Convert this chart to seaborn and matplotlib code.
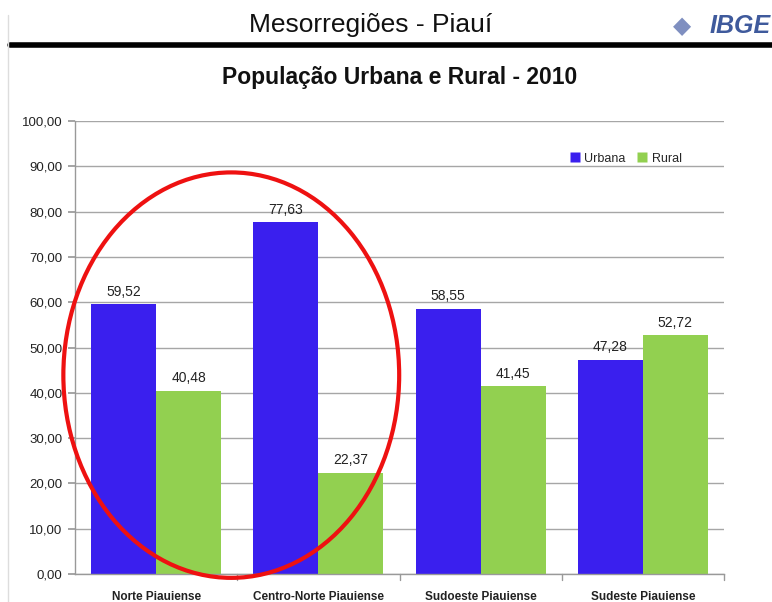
import matplotlib
matplotlib.use("Agg")
import matplotlib.pyplot as plt
import seaborn as sns
import pandas as pd
from matplotlib.patches import Ellipse
from matplotlib.lines import Line2D

categories = ["Norte Piauiense", "Centro-Norte Piauiense", "Sudoeste Piauiense", "Sudeste Piauiense"]
urbana = [59.52, 77.63, 58.55, 47.28]
rural = [40.48, 22.37, 41.45, 52.72]
series = ["Urbana", "Rural"]
yticks = [0, 10, 20, 30, 40, 50, 60, 70, 80, 90, 100]

df = pd.DataFrame({
    "Mesorregião": categories * 2,
    "Série": [series[0]] * len(categories) + [series[1]] * len(categories),
    "Valor": urbana + rural,
})

sns.set_theme(style="white")
plt.rcParams["font.family"] = ["Liberation Sans", "DejaVu Sans"]

fig = plt.figure(figsize=(7.72, 6.02), dpi=100)
ax = fig.add_axes([0.0972, 0.0465, 0.8406, 0.7525])

palette = {"Urbana": "#3A1FEE", "Rural": "#92D050"}
sns.barplot(data=df, x="Mesorregião", y="Valor", hue="Série", palette=palette,
            width=0.8, saturation=1, ax=ax, legend=False, linewidth=0, edgecolor="none")

for cont in ax.containers:
    labels = [f"{v:.2f}".replace(".", ",") for v in cont.datavalues]
    ax.bar_label(cont, labels=labels, padding=4, fontsize=10, color="#222222")

ax.set_ylim(0, 100)
ax.set_xlim(-0.5, len(categories) - 0.5)
ax.set_yticks(yticks)
ax.set_yticklabels([f"{v:.2f}".replace(".", ",") for v in yticks], fontsize=9.5, color="#222222")
ax.set_xticks(range(len(categories)))
ax.set_xticklabels(categories, fontsize=8.5, fontweight="bold", color="#222222")
ax.tick_params(axis="x", length=0, pad=12)
ax.tick_params(axis="y", length=5, color="#999999", pad=4, left=True)
ax.set_xlabel("")
ax.set_ylabel("")
ax.yaxis.grid(True, color="#a6a6a6", linewidth=1)
ax.set_axisbelow(True)
for s in ["top", "right"]:
    ax.spines[s].set_visible(False)
for s in ["left", "bottom"]:
    ax.spines[s].set_color("#999999")
    ax.spines[s].set_linewidth(1)
# x separators between categories
for b in [0.5, 1.5, 2.5, 3.5]:
    ax.plot([b, b], [0, -1.4], color="#999999", lw=1, clip_on=False, transform=ax.transData)

# legend
handles = [Line2D([0], [0], marker="s", color="none", markerfacecolor=palette[s],
                  markeredgecolor="none", markersize=7, label=s) for s in series]
ax.legend(handles=handles, loc="upper right", bbox_to_anchor=(0.952, 0.955), ncol=2,
          frameon=False, fontsize=9, handletextpad=0.3, columnspacing=0.9, handlelength=0.9)

# red ellipse annotation
ell = Ellipse((0.463, 43.9), width=2.07, height=89.5, angle=0, fill=False,
              edgecolor="#EE1111", linewidth=3, clip_on=False, zorder=5)
ax.add_patch(ell)

# header
fig.text(0.48, 0.958, "Mesorregiões - Piauí", ha="center", va="center", fontsize=19, color="#111111")
fig.add_artist(Line2D([0.013, 1.0], [0.925, 0.925], transform=fig.transFigure, color="black", linewidth=4))
fig.add_artist(Line2D([0.011, 0.011], [0.0, 0.975], transform=fig.transFigure, color="#dddddd", linewidth=1))
fig.text(0.998, 0.957, "IBGE", ha="right", va="center", fontsize=18, fontweight="bold",
         fontstyle="italic", color="#3F5A9C")
fig.text(0.883, 0.957, "◆", ha="center", va="center", fontsize=17, color="#7F8FC0",
         family=["DejaVu Sans"])
fig.text(0.518, 0.872, "População Urbana e Rural - 2010", ha="center", va="center",
         fontsize=16.5, fontweight="bold", color="#111111")

fig.savefig("out.png", dpi=100, facecolor="white")
